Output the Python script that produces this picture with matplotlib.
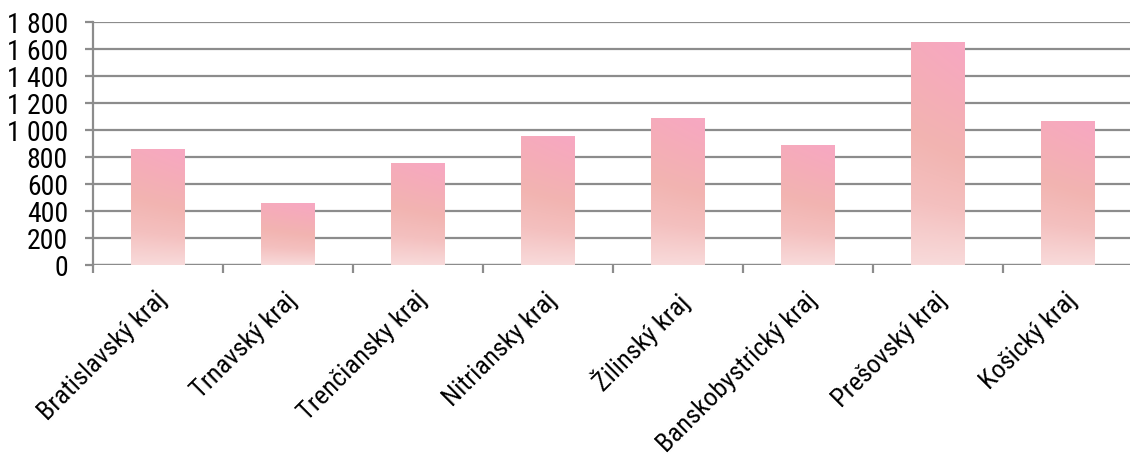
import matplotlib
matplotlib.use("Agg")
import matplotlib.pyplot as plt
import numpy as np
from matplotlib.colors import LinearSegmentedColormap
from matplotlib.patches import Rectangle
from matplotlib.ticker import FuncFormatter, FixedLocator
import matplotlib.transforms as mtransforms

categories = ["Bratislavský kraj", "Trnavský kraj", "Trenčiansky kraj", "Nitriansky kraj",
              "Žilinský kraj", "Banskobystrický kraj", "Prešovský kraj", "Košický kraj"]
values = [857, 457, 753, 953, 1087, 887, 1652, 1064]
y_ticks = [0, 200, 400, 600, 800, 1000, 1200, 1400, 1600, 1800]

plt.rcParams['font.family'] = ['Roboto Condensed', 'DejaVu Sans']
plt.rcParams['font.weight'] = 'normal'

W, H = 1130, 456
fig = plt.figure(figsize=(W / 100, H / 100), dpi=100)
ax = fig.add_axes([93 / W, (H - 265.7) / H, (1133 - 93) / W, (265.7 - 22.7) / H])

grid_c = "#8c8c8c"
ax.set_xlim(-0.5, len(categories) - 0.5)
ax.set_ylim(0, 1800)
ax.set_yticks(y_ticks)
ax.yaxis.set_major_formatter(FuncFormatter(lambda v, p: f"{int(v):,}".replace(",", " ")))
ax.grid(axis="y", color=grid_c, linewidth=1.6)
ax.set_axisbelow(True)
for s in ["top", "right", "bottom"]:
    ax.spines[s].set_visible(False)
ax.spines["left"].set_color(grid_c)
ax.spines["left"].set_linewidth(1.6)
ax.axhline(0, color=grid_c, linewidth=1.6, zorder=0.5)
ax.tick_params(axis="y", length=6, width=1.6, color=grid_c, pad=12, labelsize=20)

x = np.arange(len(categories))
ax.set_xticks(x)
ax.set_xticklabels(categories, rotation=45, ha="right", rotation_mode="anchor", fontsize=19)
ax.xaxis.set_minor_locator(FixedLocator(np.arange(-0.5, len(categories), 1.0)))
ax.tick_params(axis="x", which="major", length=0, pad=16)
ax.tick_params(axis="x", which="minor", length=6, width=1.6, color=grid_c)

cmap = LinearSegmentedColormap.from_list("pinkgrad", ["#f8dada", "#f4c0bf", "#f2b4b1", "#f5adb8", "#f7a8c1"])
bw = 0.41
yy, xx = np.mgrid[0:1:200j, 0:1:50j]
grad = np.clip(0.85 * yy + 0.2 * xx * yy, 0, 1)
for xi, v in zip(x, values):
    rect = Rectangle((xi - bw / 2, 0), bw, v, facecolor="none", edgecolor="none")
    ax.add_patch(rect)
    im = ax.imshow(grad, cmap=cmap, vmin=0, vmax=1, origin="lower", aspect="auto",
                   extent=(xi - bw / 2, xi + bw / 2, 0, v), zorder=2, interpolation="bilinear")
    im.set_clip_path(rect)
ax.set_xlim(-0.5, len(categories) - 0.5)
ax.set_ylim(0, 1800)

offset = mtransforms.ScaledTranslation(-3 / 100, 0, fig.dpi_scale_trans)
for lab in ax.get_xticklabels():
    lab.set_transform(lab.get_transform() + offset)

fig.savefig("out.png", dpi=100)
